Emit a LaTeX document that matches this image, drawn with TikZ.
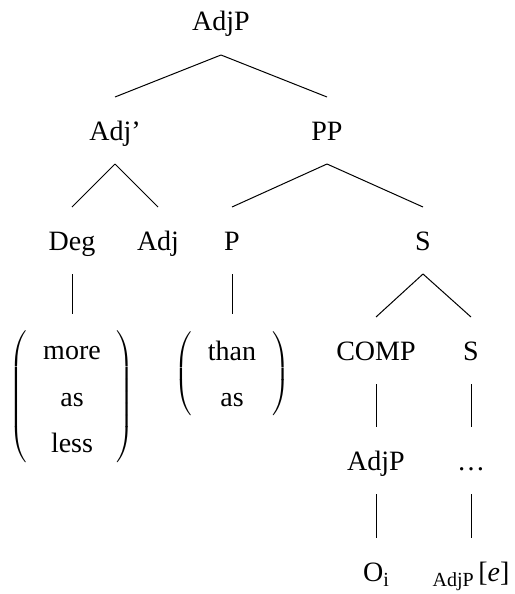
\documentclass[tikz,border=0pt]{standalone}
\usepackage{fontspec}
\setmainfont{Liberation Serif}
\renewcommand{\arraystretch}{1.37}
\setlength{\tabcolsep}{8pt}
\newcommand{\lowsub}[1]{\raisebox{-2.5pt}{\fontsize{10}{12}\selectfont #1}}

\begin{document}
\begin{tikzpicture}[x=0.5pt,y=-0.5pt,line width=0.5pt,
  lab/.style={anchor=base,inner sep=0pt,font=\fontsize{14}{17}\selectfont},
  grp/.style={inner sep=0pt,font=\fontsize{14}{17}\selectfont}]
\useasboundingbox (0,0) rectangle (514,594);

% labels
\node[lab] (top) at (221,31) {AdjP};
\node[lab] (adjbar) at (115,140) {Adj'};
\node[lab] (pp) at (327,140) {PP};
\node[lab] (deg) at (72,250) {Deg};
\node[lab] (adj) at (158,250) {Adj};
\node[lab] (p) at (232,250) {P};
\node[lab] (s) at (423,250) {S};
\node[lab] (comp) at (376,360) {COMP};
\node[lab] (s2) at (471,360) {S};
\node[lab] (adjp) at (376,470) {AdjP};
\node[lab] (dots) at (471,470) {\ldots};
\node[lab] (op) at (376,581) {O\lowsub{i}};
\node[lab] (gap) at (471,581) {\lowsub{AdjP}\,[\textit{e}]};

% bracketed choices
\node[grp] (deggrp) at (72,397) {$\left(\begin{tabular}{c}more\\as\\less\end{tabular}\right)$};
\node[grp] (pgrp) at (232,374) {$\left(\begin{tabular}{c}than\\as\end{tabular}\right)$};

% branches
\foreach \a/\b in {top/adjbar,top/pp,adjbar/deg,adjbar/adj,pp/p,pp/s,s/comp,s/s2,comp/adjp,s2/dots,adjp/op,dots/gap}
  \draw ([yshift=-12pt]\a.base) -- ([yshift=21.5pt]\b.base);
\draw ([yshift=-12pt]deg.base) -- ([yshift=6.5pt]deggrp.north);
\draw ([yshift=-12pt]p.base) -- ([yshift=6.5pt]pgrp.north);
\end{tikzpicture}
\end{document}
